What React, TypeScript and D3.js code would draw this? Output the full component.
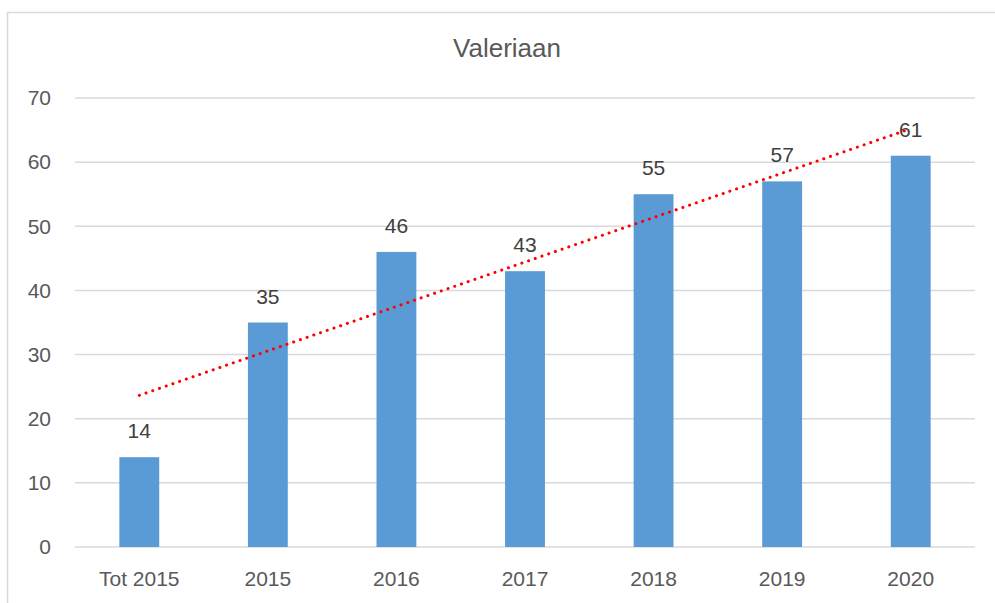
import React, { useEffect, useRef } from "react";
import * as d3 from "d3";

const categories = ["Tot 2015", "2015", "2016", "2017", "2018", "2019", "2020"];
const values = [14, 35, 46, 43, 55, 57, 61];
const yTicks = [0, 10, 20, 30, 40, 50, 60, 70];

const App = () => {
  const chartRef = useRef<SVGSVGElement | null>(null);

  useEffect(() => {
    drawChart();
  }, []);

  const drawChart = () => {
    const width = 995,
      height = 603;
    const margin = { top: 98, right: 20, bottom: 56, left: 75 };
    const innerW = 975 - margin.left;
    const innerH = 547 - margin.top;
    const font = "'Liberation Sans', Arial, sans-serif";

    const svg = d3.select(chartRef.current);
    svg.selectAll("*").remove();
    svg.attr("width", width).attr("height", height);

    svg.append("rect")
      .attr("width", width)
      .attr("height", height)
      .attr("fill", "#fff");

    // chart border
    svg.append("rect")
      .attr("x", 7.5)
      .attr("y", 12.5)
      .attr("width", 1000)
      .attr("height", 700)
      .attr("fill", "none")
      .attr("stroke", "#d9d9d9")
      .attr("stroke-width", 1.5);

    const g = svg.append("g").attr("transform", `translate(${margin.left},${margin.top})`);

    const x = d3.scaleBand()
      .domain(categories)
      .range([0, innerW])
      .paddingInner(0.69)
      .paddingOuter(0.345);

    const y = d3.scaleLinear().domain([0, 70]).range([innerH, 0]);

    // gridlines
    g.selectAll(".grid")
      .data(yTicks)
      .join("line")
      .attr("x1", 0)
      .attr("x2", innerW)
      .attr("y1", d => y(d))
      .attr("y2", d => y(d))
      .attr("stroke", "#d9d9d9")
      .attr("stroke-width", 1.5);

    // y tick labels
    g.selectAll(".ytick")
      .data(yTicks)
      .join("text")
      .attr("x", -24)
      .attr("y", d => y(d))
      .attr("dy", "0.35em")
      .attr("text-anchor", "end")
      .style("font-family", font)
      .style("font-size", "21px")
      .attr("fill", "#595959")
      .text(d => d);

    // x labels
    g.selectAll(".xtick")
      .data(categories)
      .join("text")
      .attr("x", d => (x(d) as number) + x.bandwidth() / 2)
      .attr("y", innerH + 39)
      .attr("text-anchor", "middle")
      .style("font-family", font)
      .style("font-size", "21px")
      .attr("fill", "#595959")
      .text(d => d);

    // bars
    g.selectAll(".bar")
      .data(values)
      .join("rect")
      .attr("x", (d, i) => x(categories[i]) as number)
      .attr("width", x.bandwidth())
      .attr("y", d => y(d))
      .attr("height", d => innerH - y(d))
      .attr("fill", "#5b9bd5");

    // value labels
    g.selectAll(".val")
      .data(values)
      .join("text")
      .attr("x", (d, i) => (x(categories[i]) as number) + x.bandwidth() / 2)
      .attr("y", d => y(d) - 19)
      .attr("text-anchor", "middle")
      .style("font-family", font)
      .style("font-size", "21px")
      .attr("fill", "#404040")
      .text(d => d);

    // linear trendline (least squares over category index)
    const n = values.length;
    const idx = d3.range(1, n + 1);
    const mx = d3.mean(idx) as number;
    const my = d3.mean(values) as number;
    const slope =
      d3.sum(idx, (v, i) => (v - mx) * (values[i] - my)) /
      d3.sum(idx, v => (v - mx) * (v - mx));
    const intercept = my - slope * mx;

    const line = d3.line<number>()
      .x((v, i) => (x(categories[i]) as number) + x.bandwidth() / 2)
      .y(v => y(intercept + slope * v));

    g.append("path")
      .datum(idx)
      .attr("d", line)
      .attr("fill", "none")
      .attr("stroke", "#ff0000")
      .attr("stroke-width", 3)
      .attr("stroke-linecap", "round")
      .attr("stroke-dasharray", "0.1 7");

    // title
    svg.append("text")
      .attr("x", 507)
      .attr("y", 57)
      .attr("text-anchor", "middle")
      .style("font-family", font)
      .style("font-size", "26px")
      .attr("fill", "#595959")
      .text("Valeriaan");
  };

  return (
    <svg ref={chartRef} style={{ position: "absolute", left: 0, top: 0, display: "block" }} />
  );
};

export default App;
